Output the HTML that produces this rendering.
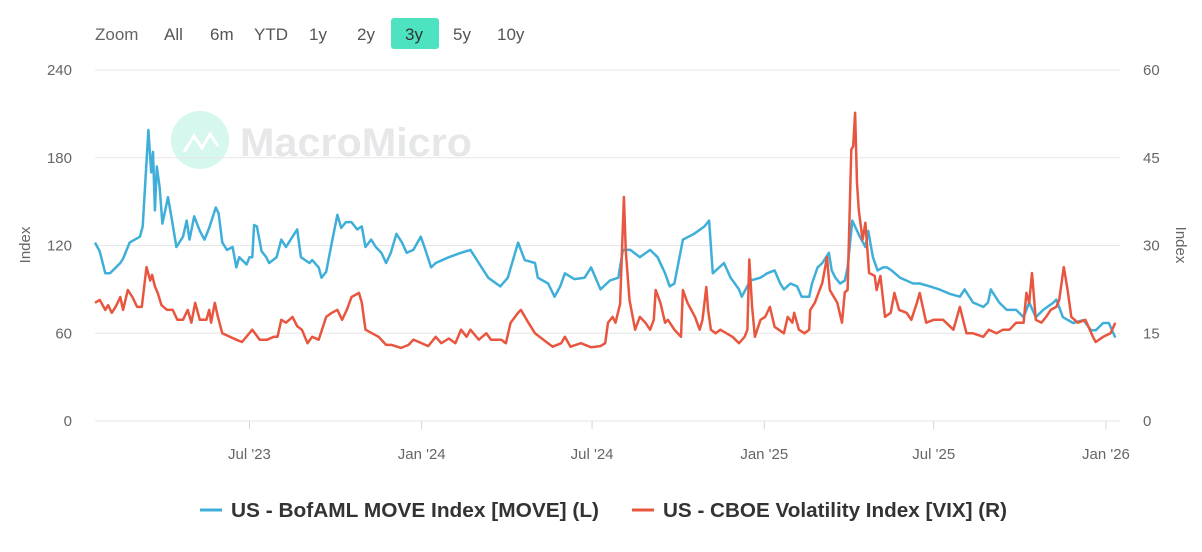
<!DOCTYPE html>
<html><head><meta charset="utf-8"><style>
body{margin:0;background:#fff;font-family:"Liberation Sans",sans-serif}
svg text{font-family:"Liberation Sans",sans-serif}
</style></head><body>
<svg id="c" width="1202" height="547" xmlns="http://www.w3.org/2000/svg">
<g font-size="17" fill="#555">
<text x="95" y="40" fill="#666">Zoom</text>
<text x="164" y="40">All</text>
<text x="210" y="40">6m</text>
<text x="254" y="40">YTD</text>
<text x="309" y="40">1y</text>
<text x="357" y="40">2y</text>
<rect x="391" y="18" width="48" height="31" rx="3" fill="#4de3c1"/>
<text x="405" y="40" fill="#333">3y</text>
<text x="453" y="40">5y</text>
<text x="497" y="40">10y</text>
</g>
<g>
<circle cx="200" cy="140" r="29" fill="#d6f7ee"/>
<polyline points="184,152 194,136 202,148 210,134 218,146" fill="none" stroke="#fff" stroke-width="3"/>
<text x="240" y="156" font-size="40" font-weight="bold" fill="#e6e7e9" textLength="232" lengthAdjust="spacingAndGlyphs">MacroMicro</text>
</g>
<g id="grid"></g><g id="axes"></g><g id="series"></g>
<text transform="translate(30,245) rotate(-90)" text-anchor="middle" font-size="15" fill="#666">Index</text>
<text transform="translate(1176,245) rotate(90)" text-anchor="middle" font-size="15" fill="#666">Index</text>
<g font-size="20" font-weight="bold" fill="#333">
<g><line x1="200" y1="510" x2="222" y2="510" stroke="#3fafd9" stroke-width="3"/><text x="231" y="517" textLength="368" lengthAdjust="spacingAndGlyphs">US - BofAML MOVE Index [MOVE] (L)</text></g>
<g><line x1="632" y1="510" x2="654" y2="510" stroke="#e8563f" stroke-width="3"/><text x="663" y="517" textLength="344" lengthAdjust="spacingAndGlyphs">US - CBOE Volatility Index [VIX] (R)</text></g>
</g>
</svg>
<script>
const leftTicks=[0,60,120,180,240];
const rightTicks=[0,15,30,45,60];
const xTickDays=[165,349,531,715,896,1080];
const xTickLabels=["Jul '23","Jan '24","Jul '24","Jan '25","Jul '25","Jan '26"];
const moveDays=[0,5,11,16,27,30,37,48,51,57,60,62,64,66,69,72,78,82,87,94,98,101,106,112,117,122,129,132,136,141,147,151,154,162,165,168,170,173,178,183,186,194,199,204,211,216,220,229,232,239,242,247,253,259,263,268,274,280,285,289,295,300,306,311,316,322,328,333,340,348,353,359,364,378,391,401,410,420,433,441,452,459,470,473,484,491,497,502,512,523,530,540,550,559,564,572,582,593,601,609,614,619,628,640,651,656,660,672,679,688,691,700,711,718,726,732,736,743,750,755,763,766,772,777,784,787,791,796,801,804,809,812,817,823,826,831,836,842,846,851,860,867,874,881,892,902,913,924,929,938,949,954,957,966,974,984,992,998,1005,1013,1024,1027,1034,1045,1056,1064,1069,1077,1083,1090];
const moveValues=[122,116,101,101,108,111,122,126,133,199,170,184,144,174,160,135,153,138,119,126,137,124,140,130,124,132,146,142,122,117,119,105,112,107,112,112,134,133,116,112,108,112,124,119,126,131,112,108,110,105,98,102,122,141,132,136,136,131,133,119,124,119,115,108,115,128,122,115,117,126,117,105,108,112,115,117,108,98,92,98,122,110,108,98,94,85,92,101,97,98,105,90,96,98,117,117,112,117,112,101,92,94,124,128,133,137,101,108,98,90,85,96,98,101,103,94,90,94,92,85,85,94,105,108,115,103,98,94,96,105,137,133,126,119,130,112,103,105,105,103,98,96,94,94,92,90,87,85,90,81,78,81,90,81,76,76,71,81,71,76,81,83,71,67,69,62,62,67,67,57];
const vixDays=[0,5,11,14,18,23,27,30,35,40,45,50,55,59,61,64,67,71,77,83,88,94,99,103,107,112,119,122,124,128,131,136,144,151,157,168,176,184,191,195,199,204,211,216,221,227,232,239,247,253,259,264,269,274,282,285,289,296,303,311,317,327,335,340,346,356,364,370,378,385,391,397,401,410,418,423,434,439,444,452,455,463,470,479,489,498,502,508,519,530,540,545,548,553,556,561,565,567,571,577,582,588,593,597,599,604,609,612,619,626,628,633,641,646,649,653,655,658,663,668,681,688,694,697,699,702,705,711,716,721,726,736,740,745,747,752,758,763,764,769,777,782,785,793,798,801,804,808,810,812,814,816,820,823,827,833,835,839,844,850,854,859,867,872,878,881,888,896,906,917,924,931,938,949,955,963,970,977,984,992,995,998,1001,1005,1011,1016,1021,1027,1030,1035,1039,1043,1050,1058,1066,1069,1077,1085,1090];
const vixValues=[20.2,20.7,19,19.8,18.5,19.8,21.2,19,22.4,21.2,19.5,19.5,26.3,24,25,23,21.9,19.8,19,19,17.3,17.3,19,16.8,20.2,17.3,17.3,19,16.8,20.2,18,15,14.4,13.9,13.5,15.6,13.9,13.9,14.4,14.4,17.3,16.8,17.8,16.2,15.6,13.3,14.4,13.9,17.8,18.5,19,17.3,19,21.2,21.9,20.2,15.6,15,14.4,13,13,12.5,13,13.9,13.5,12.8,14.4,13.3,14.1,13.3,15.6,14.4,15.6,13.9,15,13.9,13.9,13.3,16.8,18.5,19,16.8,15,13.9,12.7,13.3,14.4,12.7,13.3,12.6,12.8,13.3,16.8,17.8,16.8,20,38.3,29,20.7,15.6,17.8,16.8,15.6,17.3,22.4,20.2,16.8,17.3,15.6,14.4,22.4,20.2,17.8,15.6,17.3,22.9,19,15.6,15,15.6,14.4,13.3,14.4,15.6,27.6,19.5,14.4,17.3,17.8,19.5,16.1,15,17.8,16.8,18.5,15.6,15,15.6,19,20.2,23.6,28,22.4,20.2,16.8,22,22.4,46.4,47,52.7,40.7,36,31,33.9,25.3,24.8,22.4,24.8,17.8,18.5,21.9,19,18.5,17.3,20.2,21.9,16.8,17.3,17.3,15.6,19.5,15,15,14.4,15.6,15,15.6,15.6,16.8,16.8,21.9,20.2,25.3,17.3,16.8,17.8,19,19.5,20.7,26.3,22.4,17.8,16.8,17.3,14.4,13.5,14.4,15,16.8];
const X0=95,X1=1120,Y0=421,Y1=70,DMAX=1095;
const xs=d=>X0+d/DMAX*(X1-X0);
const yl=v=>Y0-v/240*(Y0-Y1);
const yr=v=>Y0-v/60*(Y0-Y1);
const NS="http://www.w3.org/2000/svg";
function mk(tag,attrs,parent,text){const e=document.createElementNS(NS,tag);for(const k in attrs)e.setAttribute(k,attrs[k]);if(text!==undefined)e.textContent=text;parent.appendChild(e);return e;}
const grid=document.getElementById('grid'),axes=document.getElementById('axes'),ser=document.getElementById('series');
leftTicks.forEach((t,i)=>{
  const g=mk('line',{x1:X0,x2:X1,y1:yl(t),y2:yl(t),stroke:'#e6e6e6','stroke-width':1},grid);
  
  
  const a=mk('text',{x:72,y:yl(t)+5,'text-anchor':'end','font-size':15,fill:'#666'},axes,t);
  
  
  const b=mk('text',{x:1143,y:yr(rightTicks[i])+5,'font-size':15,fill:'#666'},axes,rightTicks[i]);
  
  
});
xTickDays.forEach((d,i)=>{
  const tk=mk('line',{x1:xs(d),x2:xs(d),y1:Y0,y2:Y0+8,stroke:'#ccd6eb'},axes);
  
  
  const t=mk('text',{x:xs(d),y:459,'text-anchor':'middle','font-size':15,fill:'#666'},axes,xTickLabels[i]);
  
  
});
const pm=mk('polyline',{points:moveDays.map((d,i)=>xs(d).toFixed(1)+','+yl(moveValues[i]).toFixed(1)).join(' '),fill:'none',stroke:'#3fafd9','stroke-width':2.5,'stroke-linejoin':'round'},ser);


const pv=mk('polyline',{points:vixDays.map((d,i)=>xs(d).toFixed(1)+','+yr(vixValues[i]).toFixed(1)).join(' '),fill:'none',stroke:'#e8563f','stroke-width':2.5,'stroke-linejoin':'round'},ser);


</script>
</body></html>
